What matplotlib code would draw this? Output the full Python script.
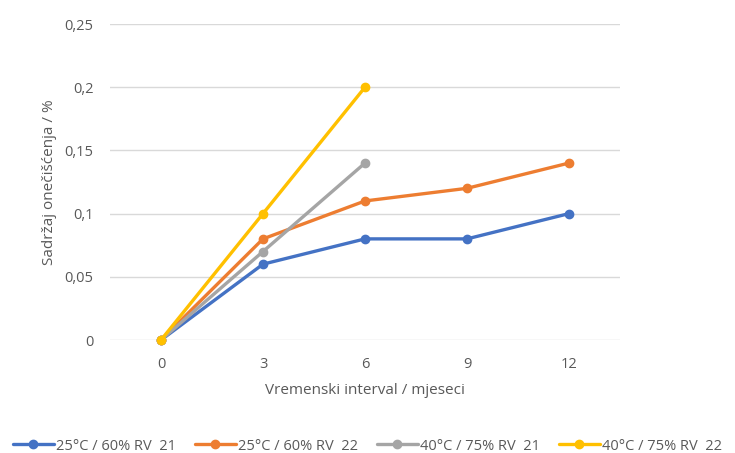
import matplotlib
matplotlib.use("Agg")
import matplotlib.pyplot as plt
from matplotlib.ticker import FuncFormatter

categories = ["0", "3", "6", "9", "12"]
s_blue = [0, 0.06, 0.08, 0.08, 0.10]
s_orange = [0, 0.08, 0.11, 0.12, 0.14]
s_gray = [0, 0.07, 0.14]
s_yellow = [0, 0.10, 0.20]
labels = ["25°C / 60% RV  21", "25°C / 60% RV  22", "40°C / 75% RV  21", "40°C / 75% RV  22"]
colors = ["#4472C4", "#ED7D31", "#A5A5A5", "#FFC000"]
yticks = [0, 0.05, 0.1, 0.15, 0.2, 0.25]

plt.rcParams['font.family'] = ['Open Sans', 'DejaVu Sans']
txt = "#595959"

fig = plt.figure(figsize=(7.35, 4.53), dpi=100)
ax = fig.add_axes([110/735, 1-340/453, 510/735, 316/453])

series = [s_blue, s_orange, s_gray, s_yellow]
for s, lab, c in zip(series, labels, colors):
    x = list(range(len(s)))
    ax.plot(x, s, color=c, lw=2.4, marker='o', ms=6, label=lab,
            solid_capstyle='round', zorder=3, clip_on=False)

ax.set_xlim(-0.5, len(categories) - 0.5)
ax.set_ylim(0, 0.25)
ax.set_xticks(range(len(categories)))
ax.set_xticklabels(categories)
ax.set_yticks(yticks)
ax.yaxis.set_major_formatter(FuncFormatter(lambda v, p: ("%g" % round(v, 2)).replace('.', ',')))
ax.grid(axis='y', color='#D9D9D9', lw=1)
ax.set_axisbelow(True)
for sp in ax.spines.values():
    sp.set_visible(False)
ax.tick_params(axis='both', length=0, colors=txt, labelsize=10.5)
ax.tick_params(axis='x', pad=12)
ax.tick_params(axis='y', pad=12)

ax.set_xlabel("Vremenski interval / mjeseci", color=txt, fontsize=11, labelpad=8)
ax.set_ylabel("Sadržaj onečišćenja / %", color=txt, fontsize=11, labelpad=5)

leg = fig.legend(loc='center', bbox_to_anchor=(0.5, 1-446/453), ncol=4, frameon=False,
                 fontsize=10.5, handlelength=2.8, columnspacing=1.3, handletextpad=0.15)
for t in leg.get_texts():
    t.set_color(txt)

fig.savefig("out.png", dpi=100)
